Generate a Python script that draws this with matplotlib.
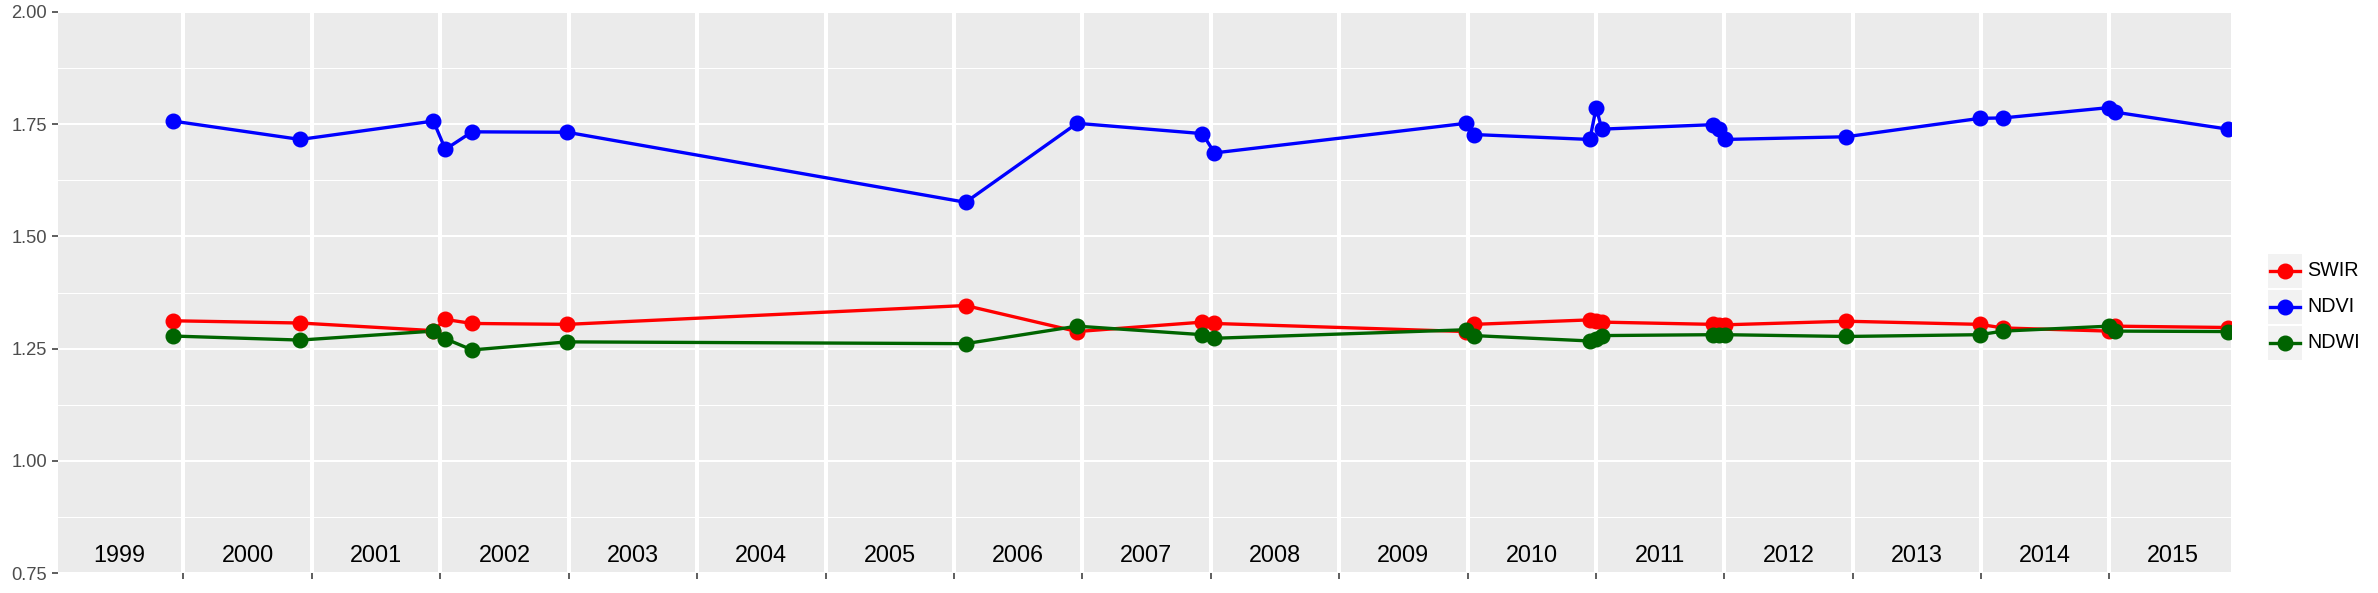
import numpy as np
import pandas as pd
import matplotlib
matplotlib.use('Agg')
import matplotlib.pyplot as plt
from matplotlib.lines import Line2D
from matplotlib.patches import Rectangle

plt.rcParams['font.family'] = ['Liberation Sans', 'DejaVu Sans']

# acquisition dates and index values
dates = ['1999-12-02', '2000-11-28', '2001-12-12', '2002-01-15', '2002-04-01',
	'2002-12-28', '2006-02-03', '2006-12-17', '2007-12-09', '2008-01-12',
	'2009-12-28', '2010-01-19', '2010-12-15', '2011-01-02', '2011-01-18',
	'2011-12-01', '2011-12-16', '2012-01-03', '2012-12-13', '2013-12-28',
	'2014-03-05', '2014-12-31', '2015-01-16', '2015-12-04']
swir = [1.312, 1.307, 1.290, 1.315, 1.306, 1.304, 1.346, 1.288, 1.309, 1.306,
	1.288, 1.304, 1.314, 1.312, 1.309, 1.304, 1.303, 1.303, 1.311, 1.304,
	1.296, 1.289, 1.300, 1.297]
ndvi = [1.757, 1.716, 1.757, 1.694, 1.733, 1.732, 1.576, 1.752, 1.729, 1.686,
	1.752, 1.727, 1.716, 1.787, 1.739, 1.749, 1.739, 1.716, 1.722, 1.763,
	1.764, 1.787, 1.777, 1.739]
ndwi = [1.278, 1.269, 1.289, 1.272, 1.247, 1.265, 1.261, 1.300, 1.281, 1.273,
	1.292, 1.279, 1.267, 1.271, 1.279, 1.281, 1.281, 1.281, 1.277, 1.281,
	1.289, 1.300, 1.289, 1.288]
years = list(range(1999, 2016))
series = [('SWIR', swir, '#FF0000'), ('NDVI', ndvi, '#0000FF'), ('NDWI', ndwi, '#006400')]

W, H = 2378, 593
fig = plt.figure(figsize=(W / 100, H / 100), dpi=100)
ax = fig.add_axes([58 / W, (H - 573) / H, (2231 - 58) / W, (573 - 12) / H])
ax.set_facecolor('#EBEBEB')
for sp in ax.spines.values() :
	sp.set_visible(False)

x = pd.to_datetime(dates)
ax.set_xlim(pd.Timestamp('1999-01-09'), pd.Timestamp('2015-12-13'))
ax.set_ylim(0.75, 2.0)

# y grid
ax.set_yticks(np.arange(0.75, 2.01, 0.25))
ax.set_yticks(np.arange(0.875, 2.0, 0.25), minor=True)
ax.set_yticklabels(['%.2f' % v for v in np.arange(0.75, 2.01, 0.25)])
ax.grid(True, axis='y', which='major', color='white', lw=1.5)
ax.grid(True, axis='y', which='minor', color='white', lw=0.75)
ax.set_axisbelow(True)

# year boundaries
bounds = [pd.Timestamp(f'{y}-01-01') for y in years[1:]]
for b in bounds :
	ax.axvline(b, color='white', lw=2.9, zorder=1)
ax.set_xticks(bounds)
ax.set_xticklabels([])
ax.tick_params(axis='both', which='major', length=4.5, width=1.1, color='#333333',
	labelcolor='#4D4D4D', labelsize=13.2, pad=3.5)
ax.tick_params(axis='y', which='minor', length=0)

for y in years :
	ax.text(pd.Timestamp(f'{y}-07-02'), 0.79, str(y), ha='center', va='center',
		fontsize=16.8, color='black', zorder=2)

for name, vals, color in series :
	ax.plot(x, vals, '-', color=color, lw=2.4, zorder=3)
for name, vals, color in series :
	ax.plot(x, vals, 'o', color=color, ms=10.5, zorder=4)

# legend
rows = [254, 290, 326]
for (name, vals, color), top in zip(series, rows) :
	fig.patches.append(Rectangle((2268 / W, 1 - (top + 34) / H), 34 / W, 34 / H,
		transform=fig.transFigure, facecolor='#F2F2F2', edgecolor='none'))
	yc = 1 - (top + 17) / H
	fig.lines.append(Line2D([2270 / W, 2300 / W], [yc, yc], transform=fig.transFigure,
		color=color, lw=2.4))
	fig.lines.append(Line2D([2285 / W], [yc], transform=fig.transFigure,
		color=color, marker='o', ms=10.5))
	fig.text(2307 / W, yc, name, ha='left', va='center', fontsize=14.2, color='black')

fig.savefig('out.png', dpi=100)
